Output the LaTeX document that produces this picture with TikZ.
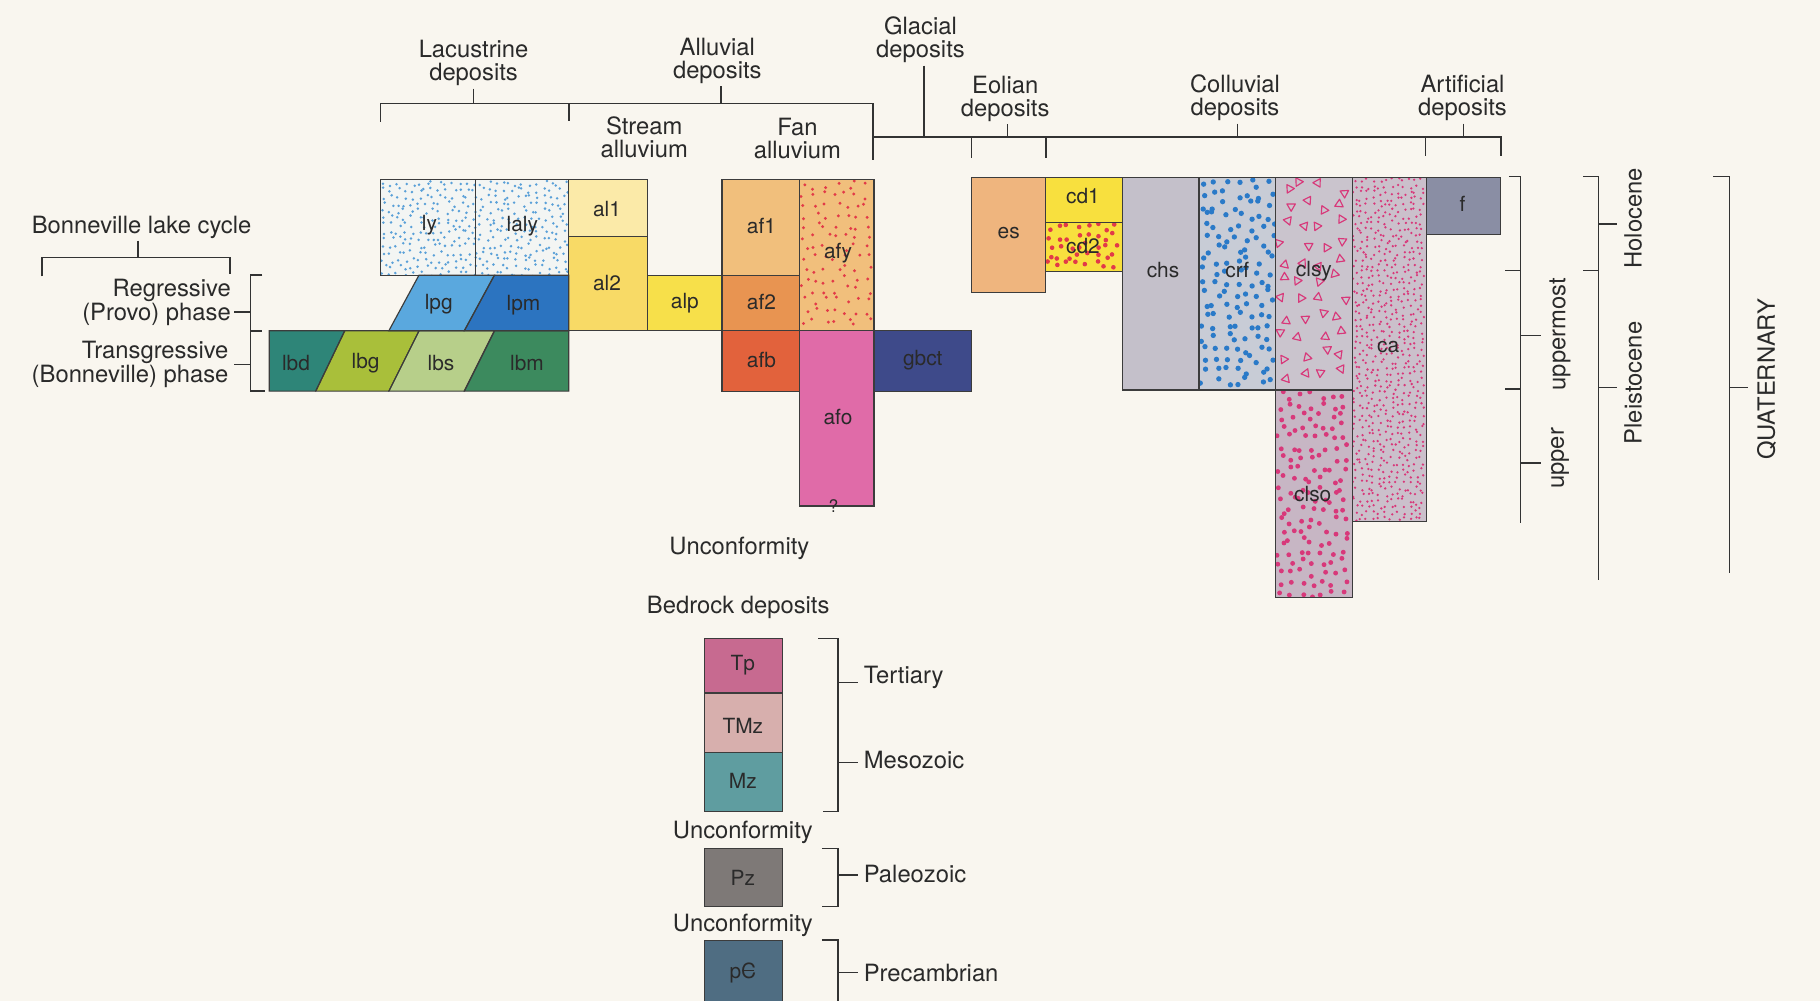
\documentclass[tikz,border=0pt]{standalone}
\usepackage{fontspec}
\setmainfont{TeX Gyre Heros}
\definecolor{bg}{HTML}{F9F6EF}
\definecolor{txt}{HTML}{2A2A2A}
\definecolor{ln}{HTML}{333333}
\definecolor{bdr}{HTML}{3C3C3C}
\definecolor{lyc}{HTML}{F3F5F3}
\definecolor{lyd}{HTML}{5AA0D8}
\definecolor{lpgc}{HTML}{5AA8DE}
\definecolor{lpmc}{HTML}{2C74C0}
\definecolor{lbdc}{HTML}{2E8578}
\definecolor{lbgc}{HTML}{A9BF3A}
\definecolor{lbsc}{HTML}{B7CF8A}
\definecolor{lbmc}{HTML}{3C8A5E}
\definecolor{alac}{HTML}{FBEAA8}
\definecolor{albc}{HTML}{F8DA66}
\definecolor{alpc}{HTML}{F7E04A}
\definecolor{afac}{HTML}{F1BF7C}
\definecolor{afbbc}{HTML}{E89451}
\definecolor{afbc}{HTML}{E2623C}
\definecolor{redd}{HTML}{E23A48}
\definecolor{afoc}{HTML}{E06BA8}
\definecolor{gbctc}{HTML}{3E4A8A}
\definecolor{esc}{HTML}{EFB57E}
\definecolor{cdc}{HTML}{F8E03E}
\definecolor{chsc}{HTML}{C4C0CA}
\definecolor{crfc}{HTML}{C8CCD6}
\definecolor{crfd}{HTML}{2A7AC8}
\definecolor{clsyc}{HTML}{CAC4CD}
\definecolor{pinkd}{HTML}{D8387A}
\definecolor{clsoc}{HTML}{C7B6C4}
\definecolor{cac}{HTML}{CBC0CB}
\definecolor{fc}{HTML}{8A8EA4}
\definecolor{tpc}{HTML}{C76A90}
\definecolor{tmzc}{HTML}{D7AFAD}
\definecolor{mzc}{HTML}{5F9DA0}
\definecolor{pzc}{HTML}{7E7977}
\definecolor{pcc}{HTML}{4F6D82}
\newcommand{\jdots}[7]{%
\begin{scope}
\clip (#1,#2) rectangle (#3,#4);
\pgfmathsetmacro\jxa{#1+#5/2}%
\pgfmathsetmacro\jxb{#1+1.5*#5}%
\pgfmathsetmacro\jya{#2+#5/2}%
\pgfmathsetmacro\jyb{#2+1.5*#5}%
\foreach \gx in {\jxa,\jxb,...,#3}{%
\foreach \gy in {\jya,\jyb,...,#4}{%
\pgfmathsetmacro\px{\gx+0.8*#5*(rnd-0.5)}%
\pgfmathsetmacro\py{\gy+0.8*#5*(rnd-0.5)}%
\fill[#7] (\px,\py) circle[radius=#6pt];
}}
\end{scope}}
\newcommand{\jtris}[7]{%
\begin{scope}
\clip (#1,#2) rectangle (#3,#4);
\pgfmathsetmacro\jxa{#1+#5/2}%
\pgfmathsetmacro\jxb{#1+1.5*#5}%
\pgfmathsetmacro\jya{#2+#5/2}%
\pgfmathsetmacro\jyb{#2+1.5*#5}%
\foreach \gx in {\jxa,\jxb,...,#3}{%
\foreach \gy in {\jya,\jyb,...,#4}{%
\pgfmathsetmacro\px{\gx+0.7*#5*(rnd-0.5)}%
\pgfmathsetmacro\py{\gy+0.7*#5*(rnd-0.5)}%
\pgfmathsetmacro\ang{360*rnd}%
\draw[#7, line width=1pt, line join=round] (\px,\py) +(\ang:#6pt) -- +(\ang+120:#6pt) -- +(\ang+240:#6pt) -- cycle;
}}
\end{scope}}
\begin{document}
\begin{tikzpicture}[x=1pt,y=-1pt,
  lbl/.style={font=\fontsize{20.5}{20}\selectfont, inner sep=0pt, align=center, text=txt},
  tl/.style={lbl, yshift=-2.5pt},
  bl/.style={font=\fontsize{18}{18}\selectfont, inner sep=0pt, text=txt},
  brk/.style={draw=ln, line width=1.3pt},
  edge/.style={draw=bdr, line width=1pt},
  stem/.style={brk, shorten <=2pt}]
\useasboundingbox (0,0) rectangle (1568,862);
\clip (0,0) rectangle (1568,862);
\fill[bg] (0,0) rectangle (1568,862);
\pgfmathsetseed{4242}
% ---------- fills ----------
\fill[lyc] (328,155) rectangle (490,237);
\jdots{328}{155}{490}{237}{6}{1.2}{lyd}
\fill[alac] (490,155) rectangle (558,204);
\fill[albc] (490,204) rectangle (558,285);
\fill[alpc] (558,237) rectangle (622,285);
\fill[afac] (622,155) rectangle (689,237);
\fill[afbbc] (622,237) rectangle (689,285);
\fill[afbc] (622,285) rectangle (689,337);
\fill[afac] (689,155) rectangle (753,285);
\jdots{689}{155}{753}{285}{9}{1.4}{redd}
\fill[afoc] (689,285) rectangle (753,436);
\fill[gbctc] (753,285) rectangle (837,337);
\fill[lpgc] (335,285) -- (361,237) -- (426,237) -- (400,285) -- cycle;
\fill[lpmc] (400,285) -- (426,237) -- (490,237) -- (490,285) -- cycle;
\fill[lbdc] (232,285) -- (297,285) -- (272,337) -- (232,337) -- cycle;
\fill[lbgc] (272,337) -- (297,285) -- (361,285) -- (335,337) -- cycle;
\fill[lbsc] (335,337) -- (361,285) -- (426,285) -- (400,337) -- cycle;
\fill[lbmc] (400,337) -- (426,285) -- (490,285) -- (490,337) -- cycle;
\fill[esc] (837,153) rectangle (901,252);
\fill[cdc] (901,153) rectangle (967,234);
\jdots{901}{192}{967}{234}{8}{2}{redd}
\fill[chsc] (967,153) rectangle (1033,336);
\fill[crfc] (1033,153) rectangle (1099,336);
\jdots{1033}{153}{1099}{336}{9.5}{2.3}{crfd}
\fill[clsyc] (1099,153) rectangle (1165,336);
\jtris{1099}{153}{1165}{336}{16}{4.2}{pinkd}
\fill[clsoc] (1099,336) rectangle (1165,515);
\jdots{1099}{336}{1165}{515}{9}{2.1}{pinkd}
\fill[cac] (1165,153) rectangle (1229,449);
\jdots{1165}{153}{1229}{449}{5.2}{1.1}{pinkd}
\fill[fc] (1229,153) rectangle (1293,202);
\fill[tpc] (607,550) rectangle (674,597);
\fill[tmzc] (607,597) rectangle (674,648);
\fill[mzc] (607,648) rectangle (674,699);
\fill[pzc] (607,731) rectangle (674,781);
\fill[pcc] (607,810) rectangle (674,880);
% ---------- borders ----------
\draw[edge] (328,155) rectangle (410,237);
\draw[edge] (410,155) rectangle (490,237);
\draw[edge] (490,155) rectangle (558,204);
\draw[edge] (490,204) rectangle (558,285);
\draw[edge] (558,237) rectangle (622,285);
\draw[edge] (622,155) rectangle (689,237);
\draw[edge] (622,237) rectangle (689,285);
\draw[edge] (622,285) rectangle (689,337);
\draw[edge] (689,155) rectangle (753,285);
\draw[edge] (689,285) rectangle (753,436);
\draw[edge] (753,285) rectangle (837,337);
\draw[edge] (335,285) -- (361,237) -- (426,237) -- (400,285) -- cycle;
\draw[edge] (400,285) -- (426,237) -- (490,237) -- (490,285) -- cycle;
\draw[edge] (232,285) -- (297,285) -- (272,337) -- (232,337) -- cycle;
\draw[edge] (272,337) -- (297,285) -- (361,285) -- (335,337) -- cycle;
\draw[edge] (335,337) -- (361,285) -- (426,285) -- (400,337) -- cycle;
\draw[edge] (400,337) -- (426,285) -- (490,285) -- (490,337) -- cycle;
\draw[edge] (837,153) rectangle (901,252);
\draw[edge] (901,153) rectangle (967,192);
\draw[edge] (901,192) rectangle (967,234);
\draw[edge] (967,153) rectangle (1033,336);
\draw[edge] (1033,153) rectangle (1099,336);
\draw[edge] (1099,153) rectangle (1165,336);
\draw[edge] (1099,336) rectangle (1165,515);
\draw[edge] (1165,153) rectangle (1229,449);
\draw[edge] (1229,153) rectangle (1293,202);
\draw[edge] (607,550) rectangle (674,597);
\draw[edge] (607,597) rectangle (674,648);
\draw[edge] (607,648) rectangle (674,699);
\draw[edge] (607,731) rectangle (674,781);
\draw[edge] (607,810) rectangle (674,880);
% ---------- box labels ----------
\node[bl] (ly) at (370,194) {ly};
\node[bl] (laly) at (450,195) {laly};
\node[bl] (al1) at (523,180) {al1};
\node[bl] (al2) at (523,244) {al2};
\node[bl] (alp) at (590,261) {alp};
\node[bl] (af1) at (656,195) {af1};
\node[bl] (af2) at (656,260) {af2};
\node[bl] (afy) at (722,218) {afy};
\node[bl] (afb) at (656,310) {afb};
\node[bl] (afo) at (722,359) {afo};
\node[bl] (gbct) at (795,310) {gbct};
\node[bl] (lpg) at (378,262) {lpg};
\node[bl] (lpm) at (451,263) {lpm};
\node[bl] (lbd) at (255,313) {lbd};
\node[bl] (lbg) at (315,313) {lbg};
\node[bl] (lbs) at (380,313) {lbs};
\node[bl] (lbm) at (454,313) {lbm};
\node[bl] (es) at (869,201) {es};
\node[bl] (cd1) at (933,169) {cd1};
\node[bl] (cd2) at (933,212) {cd2};
\node[bl] (chs) at (1002,233) {chs};
\node[bl] (crf) at (1066,233) {crf};
\node[bl] (clsy) at (1132,234) {clsy};
\node[bl] (ca) at (1196,299) {ca};
\node[bl] (f) at (1260,176) {f};
\node[bl] (clso) at (1131,426) {clso};
\node[bl, font=\fontsize{15}{15}\selectfont] (qm) at (718,436) {?};
\node[bl] (tp) at (640,573) {Tp};
\node[bl] (tmz) at (640,625) {TMz};
\node[bl] (mz) at (640,673) {Mz};
\node[bl] (pz) at (640,756) {Pz};
\node[bl] (pc) at (640,838) {p\ooalign{C\cr\hidewidth\rule[0.33em]{0.55em}{0.08em}\hidewidth\cr}};
% ---------- top labels and brackets ----------
\node[tl] (lac) at (408,52) {Lacustrine\\deposits};
\node[tl] (allu) at (618,50) {Alluvial\\deposits};
\node[tl] (glac) at (793,32) {Glacial\\deposits};
\node[tl] (stream) at (555,116) {Stream\\alluvium};
\node[tl] (fan) at (687,117) {Fan\\alluvium};
\node[tl] (eol) at (866,82.5) {Eolian\\deposits};
\node[tl] (coll) at (1064,82) {Colluvial\\deposits};
\node[tl] (art) at (1260,82) {Artificial\\deposits};
\draw[brk] (328,105) -- (328,89) -- (752,89) -- (752,138);
\draw[brk] (490,89) -- (490,104);
\draw[stem] (lac.south) -- (lac.south |- 0,89);
\draw[stem] ([xshift=3pt]allu.south) -- ([xshift=3pt]allu.south |- 0,89);
\draw[brk] (752,118) -- (1293,118) -- (1293,134);
\draw[brk] (837,118) -- (837,136);
\draw[brk] (901,118) -- (901,136);
\draw[brk] (1228,118) -- (1228,134);
\draw[stem] ([xshift=3pt]glac.south) -- ([xshift=3pt]glac.south |- 0,118);
\draw[stem] ([xshift=2pt]eol.south) -- ([xshift=2pt]eol.south |- 0,118);
\draw[stem] ([xshift=2pt]coll.south) -- ([xshift=2pt]coll.south |- 0,118);
\draw[stem] ([xshift=1pt]art.south) -- ([xshift=1pt]art.south |- 0,118);
% ---------- left labels ----------
\node[tl] (blc) at (122,193) {Bonneville lake cycle};
\draw[brk] (36,238) -- (36,222) -- (198,222) -- (198,236);
\draw[stem] ([xshift=-3pt]blc.south) -- ([xshift=-3pt]blc.south |- 0,222);
\node[tl, align=right, anchor=east] (reg) at (199,258) {Regressive\\(Provo) phase};
\node[tl, align=right, anchor=east] (trans) at (197,311.5) {Transgressive\\(Bonneville) phase};
\draw[brk] (226,237) -- (216,237) -- (216,337) -- (228,337);
\draw[brk] (216,285) -- (226,285);
\draw[brk] ([xshift=3pt]reg.east |- 0,269) -- (216,269);
\draw[brk] ([xshift=5pt]trans.east |- 0,314) -- (216,314);
% ---------- right brackets ----------
\draw[brk] (1300,152) -- (1310,152) -- (1310,451);
\draw[brk] (1297,233) -- (1310,233);
\draw[brk] (1297,335) -- (1310,335);
\node[lbl, rotate=90] (uppermost) at (1344,288) {uppermost};
\node[lbl, rotate=90] (upper) at (1344,395) {upper};
\draw[brk] (1310,289) -- (1328,289);
\draw[brk] (1310,399) -- (1328,399);
\draw[brk] (1364,152) -- (1377,152) -- (1377,500);
\draw[brk] (1364,233) -- (1377,233);
\node[lbl, rotate=90] (holo) at (1407,188) {Holocene};
\node[lbl, rotate=90] (pleis) at (1407,330) {Pleistocene};
\draw[brk] (1377,193) -- (1393,193);
\draw[brk] (1377,334) -- (1393,334);
\draw[brk] (1476,152) -- (1490,152) -- (1490,494);
\node[lbl, rotate=90] (quat) at (1522,327) {QUATERNARY};
\draw[brk] (1490,334) -- (1506,334);
% ---------- bedrock ----------
\node[tl] (unc1) at (637,470) {Unconformity};
\node[tl] (bed) at (636,521) {Bedrock deposits};
\node[tl] (unc2) at (640,715) {Unconformity};
\node[tl] (unc3) at (640,795) {Unconformity};
\node[lbl, anchor=west] (tert) at (744,584) {Tertiary};
\node[lbl, anchor=west] (meso) at (744,655) {Mesozoic};
\node[lbl, anchor=west] (paleo) at (744,753) {Paleozoic};
\node[lbl, anchor=west] (precam) at (744,838) {Precambrian};
\draw[brk] (705,550) -- (722,550) -- (722,699) -- (709,699);
\draw[brk, shorten >=5pt] (722,588) -- (tert.west |- 0,588);
\draw[brk, shorten >=5pt] (722,657) -- (meso.west |- 0,657);
\draw[brk] (708,731) -- (722,731) -- (722,781) -- (708,781);
\draw[brk, shorten >=5pt] (722,754) -- (paleo.west |- 0,754);
\draw[brk] (708,810) -- (722,810) -- (722,880);
\draw[brk, shorten >=5pt] (722,838) -- (precam.west |- 0,838);
\end{tikzpicture}
\end{document}
